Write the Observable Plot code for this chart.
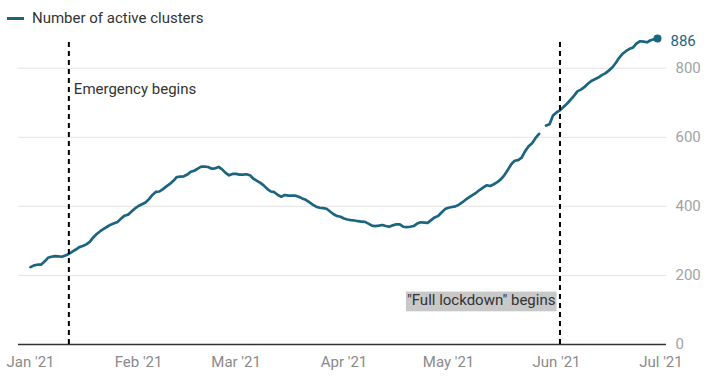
<!DOCTYPE html>
<html>
<head>
<meta charset="utf-8">
<script src="https://cdn.jsdelivr.net/npm/d3@7"></script>
<script src="https://cdn.jsdelivr.net/npm/@observablehq/plot@0.6"></script>
<style>
  body { margin: 0; background: #fff; font-family: Roboto, sans-serif; }
  #legend { position: relative; height: 30px; width: 716px; }
  #legend .sw { position: absolute; left: 7px; top: 16.5px; width: 17px; height: 3px; background: #1b6580; }
  #legend .lt { position: absolute; left: 32px; top: 10px; font-size: 15px; line-height: 16px; color: #333; white-space: nowrap; }
  #chart svg { display: block; }
</style>
</head>
<body>
<div id="legend"><span class="sw"></span><span class="lt" id="legendText"></span></div>
<div id="chart"></div>
<script>
// ---- data ----
const seriesName = "Number of active clusters";
const startDate = "2021-01-01";
// daily values, Jan 1 – Jun 30 2021 (null = missing day)
const activeClusters = [
  224, 229, 231, 231, 240, 251, 254, 256, 255, 254,
  258, 262, 269, 275, 282, 285, 290, 297, 310, 320,
  328, 335, 341, 347, 351, 355, 365, 373, 376, 385,
  394, 401, 406, 411, 421, 433, 442, 443, 450, 458,
  465, 474, 485, 486, 487, 492, 500, 503, 509, 515,
  515, 514, 509, 510, 514, 507, 497, 490, 494, 494,
  492, 492, 493, 490, 480, 474, 468, 460, 450, 443,
  441, 433, 428, 433, 431, 431, 431, 428, 423, 419,
  412, 405, 399, 396, 395, 393, 385, 377, 372, 370,
  365, 362, 360, 359, 357, 356, 355, 350, 344, 343,
  344, 346, 343, 341, 345, 348, 348, 341, 340, 341,
  343, 350, 354, 353, 352, 360, 368, 372, 382, 392,
  396, 398, 400, 405, 412, 420, 427, 433, 440, 448,
  455, 461, 459, 464, 470, 478, 490, 505, 522, 532,
  534, 541, 560, 574, 583, 598, 610, null, 634, 638,
  663, 672, 678, 688, 697, 708, 720, 733, 738, 745,
  755, 763, 768, 773, 780, 785, 793, 802, 815, 830,
  842, 850, 856, 860, 872, 878, 877, 875, 881, 884,
  886
];
const eventDates = ["2021-01-12", "2021-06-02"];
const eventLabels = ["Emergency begins", "\"Full lockdown\" begins"];
const yTicks = [0, 200, 400, 600, 800];
const xDomain = ["2020-12-28T13:00Z", "2021-07-02T14:00Z"];

// ---- build tables ----
const start = new Date(startDate);
const data = activeClusters.map((v, i) => ({ date: d3.utcDay.offset(start, i), value: v }));
const last = data.filter(d => d.value != null).slice(-1);
const events = eventDates.map((d, i) => ({ date: new Date(d), label: eventLabels[i] }));
const yMax = d3.max(activeClusters);

document.getElementById("legendText").textContent = seriesName;

const lineColor = "#1b6580";

const chart = Plot.plot({
  width: 716,
  height: 354,
  marginTop: 8,
  marginBottom: 40,
  marginLeft: 18,
  marginRight: 50,
  style: { fontFamily: "Roboto, sans-serif", fontSize: "15px", background: "#fff" },
  x: { type: "utc", domain: xDomain.map(d => new Date(d)) },
  y: { domain: [0, yMax] },
  marks: [
    Plot.gridY(yTicks.filter(t => t > 0), { stroke: "#e3e3e3", strokeOpacity: 1, strokeWidth: 1 }),
    Plot.axisY(yTicks, { anchor: "right", tickSize: 0, tickPadding: 9, fill: "#a3a3a3", label: null }),
    Plot.axisX({ ticks: d3.utcMonth.every(1), tickSize: 0, tickPadding: 12, tickFormat: d3.utcFormat("%b '%y"), fill: "#8a8a8a", label: null }),
    Plot.ruleY([0], { stroke: "#333", strokeWidth: 1.3 }),
    Plot.line(data, { x: "date", y: "value", stroke: lineColor, strokeWidth: 2.7, strokeLinejoin: "round", strokeLinecap: "round" }),
    Plot.ruleX(events, { x: "date", y1: 0, y2: yMax, stroke: "#000", strokeWidth: 2, strokeDasharray: "5,4" }),
    Plot.text(events.slice(0, 1), { x: "date", text: "label", frameAnchor: "top", dx: 5, dy: 51, textAnchor: "start", lineAnchor: "middle", fill: "#333", className: "ann" }),
    Plot.text(events.slice(1), { x: "date", text: "label", frameAnchor: "bottom", dx: -4.5, dy: -44, textAnchor: "end", lineAnchor: "middle", fill: "#333", className: "ann-box" }),
    Plot.dot(last, { x: "date", y: "value", r: 4, fill: lineColor, stroke: null }),
    Plot.text(last, { x: "date", y: "value", text: d => String(d.value), dx: 13, dy: 3, textAnchor: "start", fill: lineColor })
  ]
});

document.getElementById("chart").appendChild(chart);

// grey background behind the lockdown label
chart.querySelectorAll("g.ann-box text").forEach(t => {
  const b = t.getBBox();
  const ctm = t.getAttribute("transform");
  const rect = document.createElementNS("http://www.w3.org/2000/svg", "rect");
  rect.setAttribute("x", b.x - 1);
  rect.setAttribute("y", b.y + 0.3);
  rect.setAttribute("width", b.width + 2);
  rect.setAttribute("height", b.height + 1.7);
  rect.setAttribute("fill", "#c8c8c8");
  if (ctm) rect.setAttribute("transform", ctm);
  t.parentNode.insertBefore(rect, t);
});
</script>
</body>
</html>
